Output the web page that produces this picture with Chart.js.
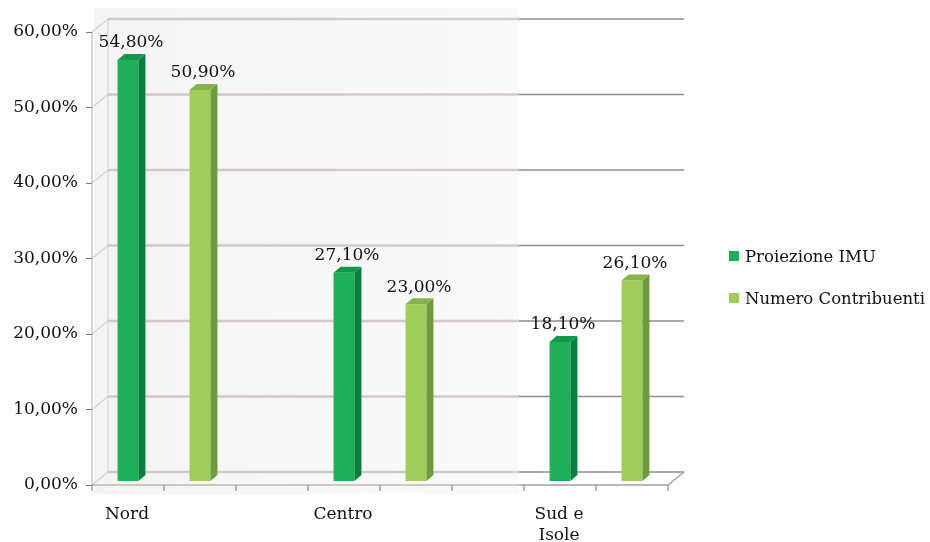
<!DOCTYPE html>
<html lang="it">
<head>
<meta charset="utf-8">
<title>Proiezione IMU e contribuenti per area</title>
<script src="https://cdn.jsdelivr.net/npm/chart.js@4.4.1/dist/chart.umd.min.js"></script>
<style>
  html, body { margin: 0; padding: 0; background: #fff; }
  #wrap { position: relative; width: 930px; height: 542px; }
  #legend {
    position: absolute; left: 729px; top: 245px;
    font-family: 'DejaVu Serif', 'Liberation Serif', serif;
    font-size: 16.5px; color: #111;
  }
  .item { display: flex; align-items: center; height: 22px; margin-bottom: 20px; white-space: nowrap; }
  .sw { width: 10px; height: 10px; margin-right: 6px; flex: none; }
</style>
</head>
<body>
<div id="wrap">
  <canvas id="chart" width="930" height="542" style="width:930px;height:542px"></canvas>
  <div id="legend"></div>
</div>
<script>
// Dati
const categories = ['Nord', 'Centro', ['Sud e', 'Isole']];
const seriesNames = ['Proiezione IMU', 'Numero Contribuenti'];
const proiezioneImu = [54.8, 27.1, 18.1];
const numeroContribuenti = [50.9, 23.0, 26.1];
const yTicks = [0, 10, 20, 30, 40, 50, 60];

// Colori: faccia, lato, cima
const palette = [
  { front: '#1eb05a', side: '#0b7f3f', top: '#15974b' },
  { front: '#a0cc5a', side: '#6f9a3e', top: '#87b34a' }
];

const FONT = "'DejaVu Serif', 'Liberation Serif', serif";
const FONT_SIZE = 17;
const WALL_DX = 16, WALL_DY = 13;   // profondità delle pareti
const BAR_DX = 7, BAR_DY = 6;       // spessore delle colonne
const GREY_EDGE = 519;              // fine della zona grigia

function pct(v) {
    return v.toFixed(2).replace('.', ',') + '%';
}

function line(ctx, x1, y1, x2, y2) {
    ctx.beginPath();
    ctx.moveTo(x1, y1);
    ctx.lineTo(x2, y2);
    ctx.stroke();
}

// Cornice pseudo 3D, facce laterali delle colonne ed etichette
const frame3d = {
    id: 'frame3d',
    beforeDraw(chart) {
        const ctx = chart.ctx;
        ctx.save();
        const g = ctx.createLinearGradient(94, 0, GREY_EDGE, 0);
        g.addColorStop(0, '#f4f4f4');
        g.addColorStop(1, '#fafafa');
        ctx.fillStyle = g;
        ctx.fillRect(94, 8, GREY_EDGE - 94, 486);
        ctx.restore();
    },
    beforeDatasetsDraw(chart) {
        const { ctx, chartArea: a, scales: { x, yl } } = chart;
        const xb = a.left + WALL_DX;
        ctx.save();
        yTicks.forEach(v => {
            const yf = yl.getPixelForValue(v);
            const yb = yf - WALL_DY;
            ctx.strokeStyle = 'rgba(175,155,155,0.5)';
            ctx.lineWidth = 2.5;
            line(ctx, xb, yb, GREY_EDGE, yb);
            ctx.strokeStyle = 'rgba(180,170,170,0.45)';
            ctx.lineWidth = 1.5;
            line(ctx, a.left, yf, xb, yb);
            ctx.strokeStyle = '#8e8e8e';
            ctx.lineWidth = 1.5;
            line(ctx, GREY_EDGE, yb, a.right + WALL_DX, yb);
        });
        const y0 = yl.getPixelForValue(0);
        const yTop = yl.getPixelForValue(60);
        // parete posteriore sinistra
        ctx.strokeStyle = 'rgba(190,180,180,0.4)';
        ctx.lineWidth = 1.5;
        line(ctx, xb, yTop - WALL_DY, xb, y0 - WALL_DY);
        // asse verticale frontale
        ctx.strokeStyle = 'rgba(170,160,160,0.6)';
        line(ctx, a.left, yTop, a.left, y0);
        // bordo frontale del pavimento
        ctx.strokeStyle = 'rgba(170,150,150,0.5)';
        ctx.lineWidth = 2;
        line(ctx, a.left, y0, GREY_EDGE, y0);
        ctx.strokeStyle = '#a0a0a0';
        ctx.lineWidth = 1.5;
        line(ctx, GREY_EDGE, y0, a.right, y0);
        line(ctx, a.right, y0, a.right + WALL_DX, y0 - WALL_DY);
        // tacche dell'asse orizzontale
        ctx.strokeStyle = '#8a8a8a';
        ctx.lineWidth = 1.2;
        x.ticks.forEach((t, i) => {
            const px = x.getPixelForTick(i);
            line(ctx, px, y0, px, y0 + 6);
        });
        ctx.restore();
    },
    afterDatasetsDraw(chart) {
        const ctx = chart.ctx;
        ctx.save();
        chart.data.datasets.forEach((ds, d) => {
            const col = palette[d];
            chart.getDatasetMeta(d).data.forEach((bar, i) => {
                const { x, y, base, width } = bar.getProps(['x', 'y', 'base', 'width'], true);
                const l = x - width / 2, r = x + width / 2;
                // lato destro
                ctx.fillStyle = col.side;
                ctx.beginPath();
                ctx.moveTo(r, y);
                ctx.lineTo(r + BAR_DX, y - BAR_DY);
                ctx.lineTo(r + BAR_DX, base - BAR_DY);
                ctx.lineTo(r, base);
                ctx.closePath();
                ctx.fill();
                // cima
                ctx.fillStyle = col.top;
                ctx.beginPath();
                ctx.moveTo(l, y);
                ctx.lineTo(l + BAR_DX, y - BAR_DY);
                ctx.lineTo(r + BAR_DX, y - BAR_DY);
                ctx.lineTo(r, y);
                ctx.closePath();
                ctx.fill();
                // etichetta valore
                ctx.fillStyle = '#111';
                ctx.font = FONT_SIZE + 'px ' + FONT;
                ctx.textAlign = 'center';
                ctx.textBaseline = 'middle';
                ctx.fillText(pct(ds.data[i].y), x + 3, y - 17);
            });
        });
        ctx.restore();
    }
};

const toPoints = arr => arr.map((v, i) => ({ x: i, y: v }));

const chart = new Chart(document.getElementById('chart'), {
    type: 'bar',
    data: {
        datasets: [
            {
                label: seriesNames[0],
                data: toPoints(proiezioneImu),
                backgroundColor: palette[0].front,
                yAxisID: 'y'
            },
            {
                label: seriesNames[1],
                data: toPoints(numeroContribuenti),
                backgroundColor: palette[1].front,
                yAxisID: 'y'
            }
        ]
    },
    plugins: [frame3d],
    options: {
        responsive: false,
        animation: false,
        categoryPercentage: 2,
        barPercentage: 0.29,
        layout: { padding: { left: 0, top: 20, right: 262, bottom: 0 } },
        plugins: {
            legend: { display: false },
            tooltip: { enabled: false }
        },
        scales: {
            x: {
                type: 'linear',
                offset: false,
                min: -1 / 3,
                max: 7 / 3,
                grid: { display: false, offset: false },
                border: { display: false },
                afterFit: s => { s.height = 57; },
                ticks: {
                    stepSize: 1 / 3,
                    autoSkip: false,
                    maxRotation: 0,
                    labelOffset: -37,
                    padding: 11,
                    color: '#111',
                    font: { family: FONT, size: FONT_SIZE, lineHeight: 1.25 },
                    callback: v => {
                        const k = Math.round(v * 3);
                        return (k % 3 === 0 && k >= 0 && k / 3 < categories.length) ? categories[k / 3] : '';
                    }
                }
            },
            // scala delle colonne
            y: {
                display: false,
                min: -0.52,
                max: 60
            },
            // scala delle etichette (piano frontale)
            yl: {
                position: 'left',
                min: 0,
                max: 61.59,
                afterFit: s => { s.width = 92; },
                border: { display: false },
                grid: { drawOnChartArea: false, drawTicks: true, tickLength: 6, color: '#777' },
                ticks: {
                    stepSize: 10,
                    includeBounds: false,
                    padding: 8,
                    color: '#111',
                    font: { family: FONT, size: FONT_SIZE },
                    callback: v => pct(v)
                }
            }
        }
    }
});

// Legenda
const legend = document.getElementById('legend');
chart.data.datasets.forEach(ds => {
    const item = document.createElement('div');
    item.className = 'item';
    item.innerHTML = `<span class="sw" style="background:${ds.backgroundColor}"></span><span>${ds.label}</span>`;
    legend.appendChild(item);
});
</script>
</body>
</html>
